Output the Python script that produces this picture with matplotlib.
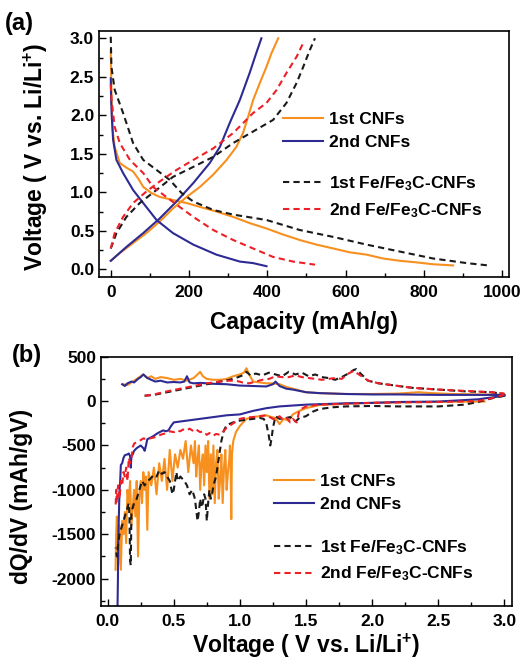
import matplotlib
matplotlib.use("Agg")
import matplotlib.pyplot as plt
import numpy as np
from matplotlib.ticker import MultipleLocator

plt.rcParams['font.family'] = ['Liberation Sans', 'DejaVu Sans']
plt.rcParams['font.weight'] = 'bold'
plt.rcParams['axes.unicode_minus'] = False
plt.rcParams['mathtext.fontset'] = 'custom'
plt.rcParams['mathtext.rm'] = 'Liberation Sans:bold'
plt.rcParams['mathtext.bf'] = 'Liberation Sans:bold'
plt.rcParams['mathtext.it'] = 'Liberation Sans:bold'

# colours
c_orange = '#F7901E'
c_blue = '#2E2A94'
c_black = '#1a1a1a'
c_red = '#EE2027'

# ---- (a) charge/discharge curves: capacity (mAh/g), voltage (V) ----
cnf1_dis_cap = [0, 2, 5, 10, 23, 40, 57, 70, 83, 104, 125, 159, 194, 228, 270, 313, 355, 398,
                441, 483, 526, 569, 611, 654, 696, 739, 781, 824, 875]
cnf1_dis_v = [2.85, 2.2, 1.8, 1.59, 1.38, 1.32, 1.27, 1.18, 1.07, 0.99, 0.94, 0.90, 0.86, 0.81,
              0.75, 0.68, 0.60, 0.53, 0.45, 0.38, 0.32, 0.27, 0.22, 0.19, 0.14, 0.11, 0.09, 0.065, 0.05]
cnf1_chg_cap = [0, 23, 57, 91, 125, 159, 194, 228, 262, 296, 321, 338, 351, 364, 381, 398, 411, 428]
cnf1_chg_v = [0.11, 0.21, 0.34, 0.47, 0.62, 0.79, 0.94, 1.07, 1.23, 1.42, 1.59, 1.77, 1.98, 2.20,
              2.42, 2.63, 2.81, 3.0]

cnf2_dis_cap = [0, 1, 2.6, 6, 14.5, 31.5, 57, 83, 117, 159, 211, 270, 330, 364, 398]
cnf2_dis_v = [2.48, 2.2, 1.98, 1.68, 1.42, 1.25, 1.03, 0.86, 0.64, 0.47, 0.32, 0.19, 0.10, 0.08, 0.04]
cnf2_chg_cap = [0, 40, 83, 125, 168, 211, 253, 279, 304, 330, 355, 372, 385]
cnf2_chg_v = [0.11, 0.29, 0.47, 0.66, 0.88, 1.12, 1.38, 1.59, 1.90, 2.20, 2.55, 2.81, 3.0]

fe1_dis_cap = [0, 1.7, 10, 31.5, 57, 83, 117, 151, 181, 211, 262, 313, 398, 483, 569, 654, 739,
               824, 910, 965]
fe1_dis_v = [3.02, 2.63, 2.33, 2.03, 1.64, 1.42, 1.29, 1.16, 0.99, 0.88, 0.77, 0.71, 0.64, 0.51,
             0.42, 0.32, 0.23, 0.14, 0.08, 0.05]
fe1_chg_cap = [0, 14.5, 40, 74, 117, 159, 211, 262, 313, 364, 415, 449, 475, 492, 509, 522]
fe1_chg_v = [0.27, 0.47, 0.68, 0.86, 1.03, 1.20, 1.33, 1.46, 1.64, 1.79, 1.94, 2.16, 2.42, 2.63,
             2.85, 3.0]

fe2_dis_cap = [0, 2, 10, 23, 49, 83, 108, 134, 168, 211, 262, 313, 364, 415, 466, 522]
fe2_dis_v = [2.4, 2.2, 1.85, 1.64, 1.42, 1.25, 1.07, 0.97, 0.84, 0.68, 0.51, 0.38, 0.27, 0.16,
             0.10, 0.06]
fe2_chg_cap = [0, 10, 31.5, 57, 91, 125, 168, 211, 262, 313, 364, 398, 424, 449, 475, 492]
fe2_chg_v = [0.27, 0.47, 0.68, 0.86, 1.01, 1.14, 1.29, 1.42, 1.57, 1.77, 2.03, 2.16, 2.33, 2.55,
             2.76, 2.94]

# ---- (b) differential capacity: voltage (V), dQ/dV (mAh/gV) ----
cnf1_neg_v = [2.85, 2.6, 2.3, 2.0, 1.8, 1.6, 1.5, 1.45, 1.4, 1.37, 1.33, 1.3, 1.27, 1.24, 1.2, 1.15,
              1.1, 1.05, 1.0, 0.97, 0.95, 0.94, 0.935, 0.93, 0.925, 0.92, 0.91, 0.9, 0.89, 0.88,
              0.87, 0.86, 0.85, 0.84, 0.83, 0.82, 0.81, 0.8, 0.79, 0.78, 0.77, 0.76, 0.75, 0.74,
              0.73, 0.72, 0.71, 0.7, 0.69, 0.68, 0.67, 0.66, 0.65, 0.63, 0.61, 0.59, 0.57, 0.55,
              0.53, 0.51, 0.49, 0.47, 0.45, 0.43, 0.41, 0.39, 0.37, 0.35, 0.33, 0.31, 0.3, 0.29,
              0.28, 0.27, 0.26, 0.25, 0.24, 0.23, 0.22, 0.21, 0.2, 0.19, 0.18, 0.17, 0.16, 0.15,
              0.14, 0.13, 0.12, 0.11, 0.1, 0.09, 0.08, 0.07, 0.065, 0.06]
cnf1_neg_q = [-5, -8, -12, -20, -30, -45, -80, -110, -150, -220, -200, -260, -190, -180, -160, -170,
              -180, -200, -280, -350, -450, -600, -1330, -700, -500, -650, -800, -1000, -550, -750,
              -1150, -600, -900, -1100, -550, -700, -1150, -500, -1050, -600, -1100, -450, -800, -500,
              -950, -600, -700, -1000, -500, -650, -850, -450, -700, -500, -800, -450, -650, -550,
              -750, -600, -900, -550, -1000, -650, -900, -700, -1050, -750, -950, -800, -1450, -850,
              -1000, -800, -1150, -900, -1050, -1750, -900, -1300, -1000, -1200, -1400, -900, -1150, -1000,
              -1600, -1250, -1500, -1350, -1900, -1400, -1850, -1300, -1500, -1900]
cnf1_pos_v = [0.12, 0.15, 0.18, 0.2, 0.23, 0.25, 0.27, 0.3, 0.33, 0.36, 0.4, 0.45, 0.5, 0.55, 0.6,
              0.65, 0.68, 0.7, 0.72, 0.75, 0.8, 0.85, 0.9, 0.95, 1.0, 1.03, 1.05, 1.07, 1.1, 1.15,
              1.2, 1.25, 1.3, 1.35, 1.4, 1.45, 1.5, 1.6, 1.7, 1.8, 2.0, 2.2, 2.35, 2.45, 2.6, 2.8, 3.0]
cnf1_pos_q = [190, 180, 210, 230, 260, 280, 300, 260, 280, 250, 270, 260, 240, 250, 230,
              260, 300, 330, 280, 250, 240, 240, 250, 280, 300, 320, 370, 300, 220, 210,
              200, 200, 190, 160, 140, 120, 100, 90, 85, 80, 80, 85, 100, 90, 80, 75, 70]

cnf2_neg_v = [3.0, 2.8, 2.5, 2.2, 2.0, 1.8, 1.5, 1.3, 1.2, 1.1, 1.0, 0.9, 0.8, 0.7, 0.6, 0.5, 0.48,
              0.46, 0.44, 0.42, 0.38, 0.34, 0.3, 0.29, 0.28, 0.27, 0.25, 0.22, 0.2, 0.19, 0.18, 0.175,
              0.17, 0.16, 0.15, 0.13, 0.12, 0.11, 0.1, 0.095, 0.09, 0.085, 0.08, 0.078, 0.075]
cnf2_neg_q = [60, 20, -5, -10, -20, -25, -40, -60, -80, -110, -150, -160, -180, -200, -220, -240, -280,
              -330, -340, -330, -360, -400, -430, -500, -560, -530, -500, -530, -560, -600, -620, -750,
              -620, -590, -600, -610, -640, -700, -720, -900, -1000, -1300, -1600, -2000, -2300]
cnf2_pos_v = [0.11, 0.13, 0.15, 0.18, 0.2, 0.23, 0.25, 0.27, 0.3, 0.33, 0.36, 0.4, 0.45, 0.5, 0.55,
              0.58, 0.6, 0.62, 0.65, 0.7, 0.8, 0.9, 1.0, 1.1, 1.2, 1.25, 1.27, 1.3, 1.35, 1.4, 1.5,
              1.6, 1.8, 2.0, 2.2, 2.5, 2.8, 3.0]
cnf2_pos_q = [190, 170, 200, 220, 210, 250, 270, 300, 260, 240, 220, 230, 210, 215, 210,
              220, 280, 210, 200, 205, 195, 190, 175, 170, 165, 190, 220, 170, 140, 130, 100,
              90, 80, 75, 75, 70, 70, 70]

fe1_neg_v = [3.0, 2.9, 2.8, 2.7, 2.5, 2.2, 2.0, 1.8, 1.7, 1.6, 1.55, 1.5, 1.45, 1.42, 1.38, 1.35,
             1.3, 1.27, 1.25, 1.24, 1.23, 1.22, 1.2, 1.18, 1.15, 1.1, 1.05, 1.0, 0.95, 0.9, 0.88,
             0.86, 0.84, 0.82, 0.8, 0.79, 0.78, 0.77, 0.76, 0.75, 0.74, 0.73, 0.72, 0.71, 0.7, 0.69,
             0.68, 0.66, 0.64, 0.62, 0.6, 0.58, 0.55, 0.53, 0.52, 0.5, 0.49, 0.47, 0.45, 0.43, 0.41,
             0.39, 0.37, 0.35, 0.32, 0.3, 0.28, 0.26, 0.24, 0.22, 0.2, 0.19, 0.18, 0.175, 0.17,
             0.165, 0.16, 0.15, 0.14, 0.13, 0.12, 0.11, 0.1, 0.09, 0.08, 0.07, 0.065, 0.06]
fe1_neg_q = [60, 30, -10, -40, -60, -60, -55, -60, -70, -90, -120, -170, -190, -230, -180, -190,
             -200, -170, -300, -420, -500, -400, -250, -200, -190, -200, -210, -220, -240, -270, -330,
             -450, -650, -850, -950, -1050, -1100, -1000, -1150, -1350, -1100, -1050, -1150, -1200,
             -1100, -1250, -1350, -1100, -1000, -1050, -950, -900, -850, -900, -800, -1000, -1050,
             -900, -850, -800, -820, -780, -850, -830, -880, -900, -950, -900, -1000, -1100, -1150,
             -1200, -1250, -1850, -1800, -1300, -1150, -1200, -1250, -1300, -1350, -1400, -1450,
             -1500, -1600, -1750, -1700, -1650]
fe1_pos_v = [0.28, 0.35, 0.45, 0.55, 0.65, 0.75, 0.85, 0.92, 0.97, 1.02, 1.05, 1.08, 1.12, 1.17,
             1.22, 1.27, 1.32, 1.37, 1.42, 1.47, 1.52, 1.57, 1.62, 1.67, 1.72, 1.77, 1.82, 1.86,
             1.88, 1.92, 1.97, 2.05, 2.15, 2.3, 2.5, 2.7, 2.9, 3.0]
fe1_pos_q = [60, 70, 100, 130, 160, 190, 220, 240, 260, 290, 330, 290, 310, 290,
             320, 300, 280, 330, 300, 320, 280, 300, 270, 260, 240, 270, 310, 350,
             360, 300, 230, 200, 180, 150, 130, 110, 100, 80]

fe2_neg_v = [3.0, 2.9, 2.8, 2.5, 2.2, 2.0, 1.8, 1.6, 1.5, 1.45, 1.43, 1.4, 1.38, 1.35, 1.32, 1.3,
             1.27, 1.25, 1.2, 1.15, 1.1, 1.05, 1.0, 0.95, 0.9, 0.87, 0.85, 0.82, 0.8, 0.77, 0.75,
             0.72, 0.7, 0.67, 0.65, 0.62, 0.6, 0.57, 0.55, 0.52, 0.5, 0.47, 0.45, 0.42, 0.4, 0.37,
             0.35, 0.32, 0.3, 0.27, 0.25, 0.22, 0.2, 0.19, 0.18, 0.17, 0.16, 0.15, 0.14, 0.13, 0.12,
             0.11, 0.1, 0.09, 0.08, 0.075, 0.07, 0.065, 0.06]
fe2_neg_q = [70, 30, 0, -10, -15, -20, -30, -40, -60, -100, -240, -200, -240, -180, -200, -170,
             -210, -200, -160, -170, -180, -185, -200, -250, -300, -350, -380, -370, -390, -360, -380,
             -340, -350, -320, -340, -310, -330, -320, -340, -330, -350, -340, -360, -370, -380, -400,
             -410, -420, -430, -420, -440, -460, -480, -520, -650, -700, -640, -900, -750, -850, -800,
             -950, -900, -1100, -950, -1000, -1150, -1000, -1200]
fe2_pos_v = [0.28, 0.35, 0.45, 0.55, 0.65, 0.75, 0.85, 0.92, 0.97, 1.02, 1.07, 1.12, 1.17, 1.22,
             1.27, 1.32, 1.37, 1.42, 1.47, 1.52, 1.57, 1.62, 1.67, 1.72, 1.77, 1.82, 1.86, 1.88,
             1.92, 1.97, 2.05, 2.15, 2.3, 2.5, 2.7, 2.9, 3.0]
fe2_pos_q = [60, 75, 110, 140, 170, 200, 220, 230, 230, 210, 200, 220, 240, 250,
             280, 270, 270, 290, 270, 260, 250, 240, 250, 260, 250, 310, 340, 320,
             280, 230, 200, 180, 150, 130, 115, 100, 85]

labels = ['1st CNFs', '2nd CNFs', '1st Fe/Fe$_3$C-CNFs', '2nd Fe/Fe$_3$C-CNFs']

fig = plt.figure(figsize=(5.22, 6.59), dpi=100)
ax1 = fig.add_axes([0.1897, 0.5797, 0.7855, 0.3733])
ax2 = fig.add_axes([0.1935, 0.0809, 0.7874, 0.3778])

lw = 1.5
dash = (3, 2)

# panel a
l1, = ax1.plot(cnf1_dis_cap, cnf1_dis_v, color=c_orange, lw=lw)
ax1.plot(cnf1_chg_cap, cnf1_chg_v, color=c_orange, lw=lw)
l2, = ax1.plot(cnf2_dis_cap, cnf2_dis_v, color=c_blue, lw=lw)
ax1.plot(cnf2_chg_cap, cnf2_chg_v, color=c_blue, lw=lw)
l3, = ax1.plot(fe1_dis_cap, fe1_dis_v, color=c_black, lw=lw, ls=(0, dash))
ax1.plot(fe1_chg_cap, fe1_chg_v, color=c_black, lw=lw, ls=(0, dash))
l4, = ax1.plot(fe2_dis_cap, fe2_dis_v, color=c_red, lw=lw, ls=(0, dash))
ax1.plot(fe2_chg_cap, fe2_chg_v, color=c_red, lw=lw, ls=(0, dash))

ax1.set_xlim(-30, 1018)
ax1.set_ylim(-0.1, 3.095)
ax1.xaxis.set_major_locator(MultipleLocator(200))
ax1.xaxis.set_minor_locator(MultipleLocator(100))
ax1.yaxis.set_major_locator(MultipleLocator(0.5))
ax1.yaxis.set_minor_locator(MultipleLocator(0.25))
ax1.set_xlabel('Capacity (mAh/g)', fontsize=16.5, fontweight='bold')
ax1.set_ylabel('Voltage ( V vs. Li/Li$^{+}$)', fontsize=16.5, fontweight='bold')
ax1.xaxis.set_label_coords(0.5, -0.14)
ax1.yaxis.set_label_coords(-0.12, 0.488)
ax1.tick_params(axis='x', pad=6)

# panel b
ax2.plot(cnf1_neg_v + [np.nan] + cnf1_pos_v, cnf1_neg_q + [np.nan] + cnf1_pos_q, color=c_orange, lw=lw)
ax2.plot(cnf2_neg_v + [np.nan] + cnf2_pos_v, cnf2_neg_q + [np.nan] + cnf2_pos_q, color=c_blue, lw=lw)
ax2.plot(fe1_neg_v + [np.nan] + fe1_pos_v, fe1_neg_q + [np.nan] + fe1_pos_q, color=c_black, lw=lw, ls=(0, dash))
ax2.plot(fe2_neg_v + [np.nan] + fe2_pos_v, fe2_neg_q + [np.nan] + fe2_pos_q, color=c_red, lw=lw, ls=(0, dash))

ax2.set_xlim(-0.05, 3.058)
ax2.set_ylim(-2305, 500)
ax2.xaxis.set_major_locator(MultipleLocator(0.5))
ax2.xaxis.set_minor_locator(MultipleLocator(0.25))
ax2.yaxis.set_major_locator(MultipleLocator(500))
ax2.yaxis.set_minor_locator(MultipleLocator(250))
ax2.set_xlabel('Voltage ( V vs. Li/Li$^{+}$)', fontsize=16.5, fontweight='bold')
ax2.set_ylabel('dQ/dV (mAh/gV)', fontsize=16.5, fontweight='bold')
ax2.xaxis.set_label_coords(0.5, -0.105)
ax2.yaxis.set_label_coords(-0.165, 0.44)
ax2.tick_params(axis='x', pad=6)

for ax in (ax1, ax2):
    ax.tick_params(which='both', direction='in', labelsize=12.5, width=1.0)
    ax.tick_params(which='major', length=5)
    ax.tick_params(which='minor', length=3)
    for lab in ax.get_xticklabels() + ax.get_yticklabels():
        lab.set_fontweight('bold')
    for sp in ax.spines.values():
        sp.set_linewidth(1.2)

handles = [l1, l2, l3, l4]
leg_kw = dict(frameon=False, fontsize=12.5, handlelength=2.3, handletextpad=0.35,
              borderpad=0, borderaxespad=0, labelspacing=0.45, loc='center left')

la = ax1.legend(handles[:2], labels[:2], bbox_to_anchor=(0.449, 0.593), **leg_kw)
ax1.add_artist(la)
ax1.legend(handles[2:], labels[2:], bbox_to_anchor=(0.449, 0.325), **leg_kw)

lb = ax2.legend(handles[:2], labels[:2], bbox_to_anchor=(0.421, 0.452), **leg_kw)
ax2.add_artist(lb)
ax2.legend(handles[2:], labels[2:], bbox_to_anchor=(0.421, 0.18), **leg_kw)

fig.text(0.038, 0.965, '(a)', fontsize=17, fontweight='bold', ha='center', va='center')
fig.text(0.052, 0.461, '(b)', fontsize=17, fontweight='bold', ha='center', va='center')

fig.savefig('out.png', dpi=100)
